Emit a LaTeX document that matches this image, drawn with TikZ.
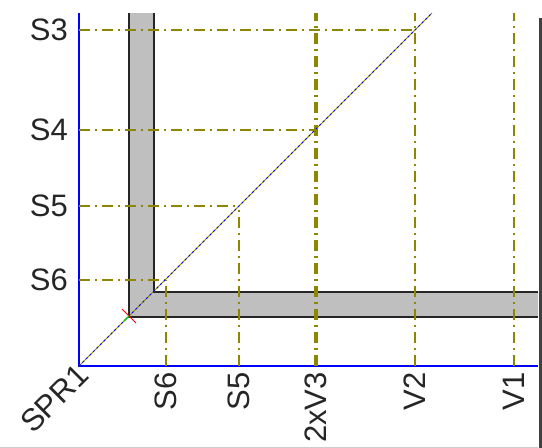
\documentclass[tikz,border=0pt]{standalone}
\usepackage{fontspec}
\setmainfont{Liberation Sans}
\usetikzlibrary{calc}
\begin{document}
\begin{tikzpicture}[x=1pt,y=-1pt,
  lbl/.style={font=\fontsize{31}{31}\selectfont, inner sep=0pt, text=black!85},
  guide/.style={draw=olive, line width=1.3pt, dash pattern=on 11pt off 5pt on 2pt off 5pt},
  thickguide/.style={guide, line width=3.2pt},
  axisline/.style={draw=blue, line width=1.6pt},
  barline/.style={draw=black!85, line width=1.6pt},
  barfill/.style={fill=black!25}]
\useasboundingbox (0,0) rectangle (542,448);
\fill[white] (0,0) rectangle (542,448);
% key coordinates
\coordinate (O) at (79,366);
\coordinate (Ytop) at (79,13);
\coordinate (Xend) at (538,366);
\coordinate (Dend) at (432,13);
% window borders
\draw[black!75, line width=3pt] (540,18) -- (540,448);
\draw[black!20, line width=1pt] (0,447.5) -- (538,447.5);
% gray L-shaped bar
\fill[barfill] (129,13) -- (154,13) -- (154,292) -- (538,292) -- (538,317) -- (129,317) -- cycle;
\draw[barline] (129,13) -- (129,317) -- (538,317);
\draw[barline] (154,13) -- (154,292) -- (538,292);
% axes
\draw[axisline] (Ytop) -- (O) -- (Xend);
% horizontal guides
\coordinate (h3a) at (79,30);  \coordinate (h3b) at (415,30);
\coordinate (h4a) at (79,130); \coordinate (h4b) at (316,130);
\coordinate (h5a) at (79,206); \coordinate (h5b) at (239,206);
\coordinate (h6a) at (79,280); \coordinate (h6b) at (166,280);
\draw[guide] (h3a) -- (h3b);
\draw[guide] (h4a) -- (h4b);
\draw[guide] (h5a) -- (h5b);
\draw[guide] (h6a) -- (h6b);
% vertical guides
\coordinate (v6a) at (166,366); \coordinate (v5a) at (239,366);
\coordinate (v3a) at (316,366); \coordinate (v3b) at (316,13);
\coordinate (v2a) at (415,366); \coordinate (v2b) at (415,13);
\coordinate (v1a) at (514,366); \coordinate (v1b) at (514,13);
\draw[guide] (v6a) -- (h6b);
\draw[guide] (v5a) -- (h5b);
\draw[thickguide] (v3a) -- (v3b);
\draw[guide] (v2a) -- (v2b);
\draw[guide] (v1a) -- (v1b);
% diagonal
\draw[olive, line width=1pt] (O) -- (Dend);
\draw[blue, line width=1pt, dash pattern=on 2pt off 3pt] (O) -- (Dend);
% corner marker
\coordinate (mk) at (129,316);
\draw[red, line width=0.9pt] ($(mk)+(-7,-7)$) -- ($(mk)+(7,7)$);
\draw[green!80!black, line width=1.2pt] (mk) -- ($(mk)+(-5,5)$);
% left labels
\node[lbl, anchor=east] (S3) at (68,30) {S3};
\node[lbl, anchor=east] (S4) at (68,130) {S4};
\node[lbl, anchor=east] (S5) at (68,206) {S5};
\node[lbl, anchor=east] (S6) at (68,280) {S6};
% bottom labels
\node[lbl, anchor=east, rotate=90] (bS6) at (166,372) {S6};
\node[lbl, anchor=east, rotate=90] (bS5) at (239,372) {S5};
\node[lbl, anchor=east, rotate=90] (b2xV3) at (316,372) {2xV3};
\node[lbl, anchor=east, rotate=90] (bV2) at (415,372) {V2};
\node[lbl, anchor=east, rotate=90] (bV1) at (514,372) {V1};
\node[lbl, anchor=east, rotate=45] (spr) at (83,370) {SPR1};
\end{tikzpicture}
\end{document}
